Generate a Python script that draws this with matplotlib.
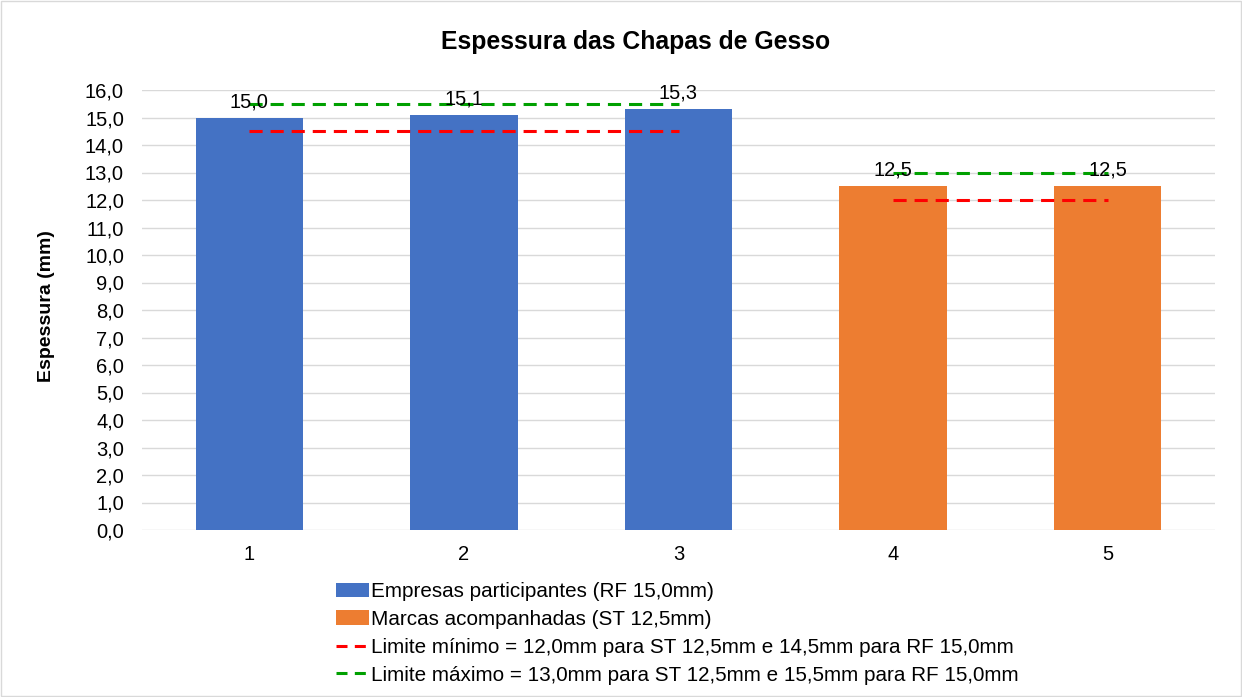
import matplotlib
matplotlib.use("Agg")
import matplotlib.pyplot as plt
import numpy as np
from matplotlib.patches import Rectangle
from matplotlib.lines import Line2D

plt.rcParams['font.family'] = ['Liberation Sans', 'DejaVu Sans']

categories = ["1", "2", "3", "4", "5"]
rf_values = [15.0, 15.1, 15.3]
st_values = [12.5, 12.5]
lim_min_rf = [14.5, 14.5, 14.5]
lim_max_rf = [15.5, 15.5, 15.5]
lim_min_st = [12.0, 12.0]
lim_max_st = [13.0, 13.0]
yticks = np.arange(0, 16.01, 1.0)

blue = "#4472C4"
orange = "#ED7D31"
red = "#FF0000"
green = "#00A000"

fig = plt.figure(figsize=(12.42, 6.97), dpi=100)
ax = fig.add_axes([142/1242, (697-530)/697, (1215-142)/1242, (530-90)/697])

x = np.arange(1, len(categories) + 1)
x_rf = x[:3]
x_st = x[3:]

b1 = ax.bar(x_rf, rf_values, width=0.5, color=blue, zorder=2,
            label="Empresas participantes (RF 15,0mm)")
b2 = ax.bar(x_st, st_values, width=0.5, color=orange, zorder=2,
            label="Marcas acompanhadas (ST 12,5mm)")

lw = 2.2
dash = (0, (4.3, 2.6))
ax.plot(x_rf, lim_min_rf, color=red, lw=lw, ls=dash, zorder=3)
ax.plot(x_st, lim_min_st, color=red, lw=lw, ls=dash, zorder=3)
ax.plot(x_rf, lim_max_rf, color=green, lw=lw, ls=dash, zorder=3)
ax.plot(x_st, lim_max_st, color=green, lw=lw, ls=dash, zorder=3)

leg_dash = (0, (3.6, 2.4))
l1 = Line2D([], [], color=red, lw=lw, ls=leg_dash,
            label="Limite mínimo = 12,0mm para ST 12,5mm e 14,5mm para RF 15,0mm")
l2 = Line2D([], [], color=green, lw=lw, ls=leg_dash,
            label="Limite máximo = 13,0mm para ST 12,5mm e 15,5mm para RF 15,0mm")

for xi, v in zip(x, rf_values + st_values):
    ax.text(xi, v + 0.23, f"{v:.1f}".replace(".", ","), ha="center", va="bottom",
            fontsize=14.5, color="#000000", zorder=4)

ax.set_xlim(0.5, 5.5)
ax.set_ylim(0, 16)
ax.set_yticks(yticks)
ax.set_yticklabels([f"{t:.1f}".replace(".", ",") for t in yticks], fontsize=14.5)
ax.set_xticks(x)
ax.set_xticklabels(categories, fontsize=14.5)
ax.tick_params(axis="y", length=0, pad=13)
ax.tick_params(axis="x", length=0, pad=11)
ax.grid(axis="y", color="#D9D9D9", lw=1, zorder=0)
for s in ax.spines.values():
    s.set_visible(False)

ax.set_ylabel("Espessura (mm)", fontsize=14, fontweight="bold")
ax.yaxis.set_label_coords((55 - 142) / (1215 - 142), (530 - 306) / 440)

fig.text(636/1242, 1 - 42/697, "Espessura das Chapas de Gesso", ha="center", va="center",
         fontsize=17.8, fontweight="bold")

leg = fig.legend(handles=[b1, b2, l1, l2], loc="upper left",
                 bbox_to_anchor=(336/1242, 1 - 582/697), frameon=False,
                 fontsize=14.9, handlelength=1.6, handletextpad=0.1,
                 labelspacing=0.43, borderpad=0, borderaxespad=0)

border = Rectangle((1/1242, 1/697), 1 - 2/1242, 1 - 2/697, transform=fig.transFigure,
                   fill=False, edgecolor="#D9D9D9", lw=1)
fig.patches.append(border)

fig.savefig("out.png", dpi=100, facecolor="white")
